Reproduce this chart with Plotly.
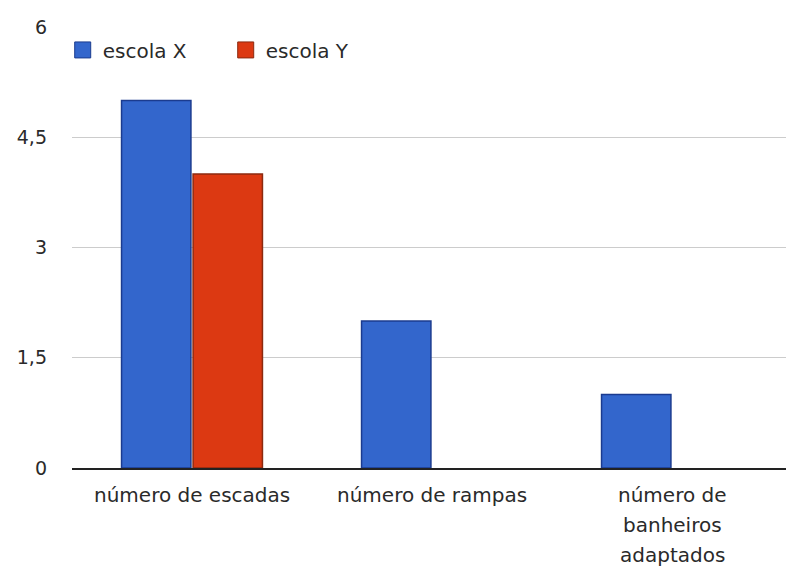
import plotly.graph_objects as go

categories = ["número de escadas", "número de rampas", "número de<br>banheiros<br>adaptados"]
series_names = ["escola X", "escola Y"]
escola_x = [5, 2, 1]
escola_y = [4, 0, 0]
y_ticks = [0, 1.5, 3, 4.5, 6]

fill_colors = ["#3366cc", "#dc3912"]
line_colors = ["#1b3b8f", "#8c2a10"]
FONT = "DejaVu Sans"

fig = go.Figure()
xs = list(range(len(categories)))
for name, vals, fc, lc in zip(series_names, [escola_x, escola_y], fill_colors, line_colors):
    fig.add_trace(go.Bar(x=xs, y=vals, name=name,
                         marker=dict(color=fc, line=dict(color=lc, width=[1.5 if v else 0 for v in vals])),
                         showlegend=False))
    # legend proxy with larger square symbol
    fig.add_trace(go.Scatter(x=[None], y=[None], mode="markers", name=name,
                             marker=dict(symbol="square", size=18, color=fc, line=dict(color=lc, width=1))))

# category labels as multi-line annotations below axis
for i, lab in enumerate(categories):
    for j, line in enumerate(lab.split("<br>")):
        fig.add_annotation(x=i, y=0, xref="x", yref="paper", text=line, showarrow=False,
                           yanchor="middle", yshift=-27 - 30 * j,
                           font=dict(family=FONT, size=20, color="#2a2a2a"))

fig.update_layout(
    width=786, height=568,
    margin=dict(l=72, r=0, t=27, b=100),
    paper_bgcolor="white", plot_bgcolor="white",
    separators=", ",
    barmode="group", bargap=0.404, bargroupgap=0.03,
    font=dict(family=FONT, size=20, color="#2a2a2a"),
    showlegend=True,
    legend=dict(orientation="h", x=-0.013, xanchor="left", y=0.948, yanchor="middle",
                bgcolor="rgba(0,0,0,0)", font=dict(family=FONT, size=20, color="#2a2a2a"),
                entrywidth=118, itemsizing="trace"),
    xaxis=dict(range=[-0.5, 2.475], showticklabels=False, showgrid=False, zeroline=False,
               showline=True, linecolor="#222222", linewidth=2, ticks=""),
    yaxis=dict(range=[0, 6], tickvals=y_ticks, showgrid=True, gridcolor="#cccccc", gridwidth=1,
               zeroline=False, showline=False, ticks="", ticklabelstandoff=24,
               tickfont=dict(family=FONT, size=19, color="#2a2a2a")),
)

fig.write_html("out.html", default_width="786px", default_height="568px",
               config={"displayModeBar": False},
               post_script="document.body.style.margin='0';document.body.style.overflow='hidden';")
